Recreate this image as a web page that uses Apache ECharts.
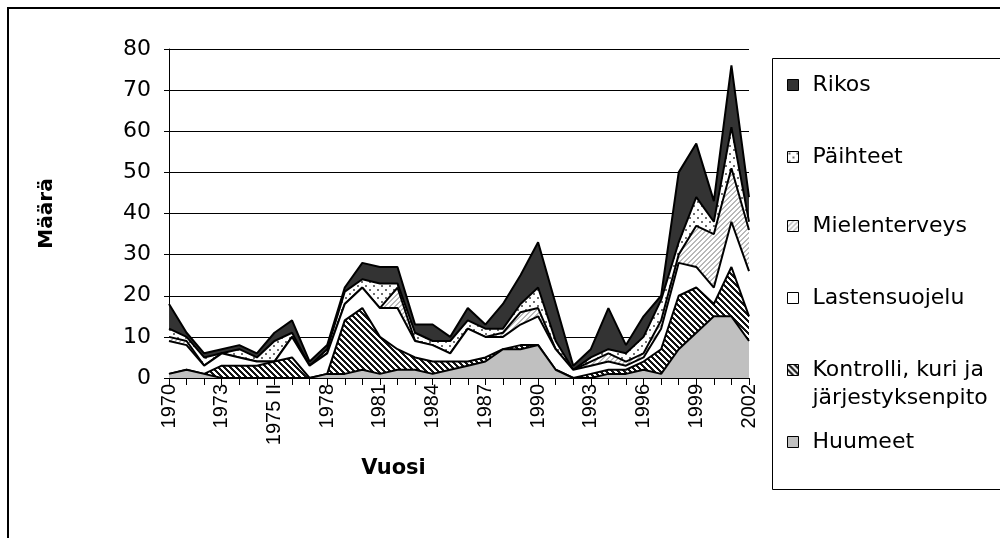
<!DOCTYPE html>
<html lang="fi">
<head>
    <meta charset="UTF-8">
    <title>Määrä vuosittain</title>
    <script src="https://cdn.jsdelivr.net/npm/echarts@6/dist/echarts.min.js"></script>
    <style>
        html, body { margin: 0; padding: 0; background: #fff; }
        #main { width: 1000px; height: 538px; }
    </style>
</head>
<body>
    <div id="main"></div>
    <script type="text/javascript">
        // vuodet (1975 kahdesti: 1975 ja 1975 II)
        var vuodet = ['1970', '1971', '1972', '1973', '1974', '1975', '1975 II', '1976', '1977', '1978',
            '1979', '1980', '1981', '1982', '1983', '1984', '1985', '1986', '1987', '1988',
            '1989', '1990', '1991', '1992', '1993', '1994', '1995', '1996', '1997', '1998',
            '1999', '2000', '2001', '2002'];

        var huumeet       = [1, 2, 1, 0, 0, 0, 0, 0, 0, 1, 1, 2, 1, 2, 2, 1, 2, 3, 4, 7, 7, 8, 2, 0, 0, 1, 1, 2, 1, 7, 11, 15, 15, 9];
        var kontrolli     = [0, 0, 0, 3, 3, 3, 4, 5, 0, 0, 13, 15, 9, 5, 3, 3, 2, 1, 1, 0, 1, 0, 0, 0, 1, 1, 1, 2, 6, 13, 11, 3, 12, 6];
        var lastensuojelu = [8, 6, 2, 3, 2, 1, 0, 5, 3, 5, 4, 5, 7, 10, 4, 4, 2, 8, 5, 3, 5, 7, 5, 2, 2, 2, 1, 1, 5, 8, 5, 4, 11, 11];
        var mielenterveys = [1, 1, 0, 0, 0, 0, 0, 0, 0, 0, 0, 0, 0, 5, 0, 0, 0, 0, 0, 1, 3, 2, 0, 0, 1, 2, 1, 1, 2, 2, 10, 13, 13, 10];
        var paihteet      = [2, 1, 2, 0, 2, 1, 5, 1, 0, 1, 3, 2, 6, 1, 2, 1, 3, 2, 2, 1, 2, 5, 2, 0, 1, 1, 2, 4, 5, 3, 7, 3, 10, 2];
        var rikos         = [6, 1, 1, 1, 1, 1, 2, 3, 1, 1, 1, 4, 4, 4, 2, 4, 1, 3, 1, 6, 7, 11, 9, 1, 2, 10, 2, 5, 1, 17, 13, 5, 15, 6];

        var KONTROLLI = 'Kontrolli, kuri ja järjestyksenpito';

        // kuviot (pattern fill) pikseleittäin
        function kuvio(size, fn) {
            var c = document.createElement('canvas');
            c.width = size; c.height = size;
            var ctx = c.getContext('2d');
            var img = ctx.createImageData(size, size);
            for (var y = 0; y < size; y++) {
                for (var x = 0; x < size; x++) {
                    var v = fn(x, y);
                    var i = (y * size + x) * 4;
                    img.data[i] = v; img.data[i + 1] = v; img.data[i + 2] = v; img.data[i + 3] = 255;
                }
            }
            ctx.putImageData(img, 0, 0);
            return { image: c, repeat: 'repeat' };
        }
        var pisteet = kuvio(8, function (x, y) {
            if ((x == 1 || x == 2) && (y == 1 || y == 2)) return 110;
            if ((x == 5 || x == 6) && (y == 5 || y == 6)) return 110;
            return 255;
        });
        var vaaleaVino = kuvio(5, function (x, y) { return ((x + y) % 5) < 2 ? 185 : 255; });
        var tummaVino = kuvio(6, function (x, y) { return ((x - y + 60) % 6) < 3 ? 20 : 255; });

        var tyylit = {
            'Huumeet': '#c0c0c0',
            'Rikos': '#333333'
        };
        tyylit[KONTROLLI] = tummaVino;
        tyylit['Lastensuojelu'] = '#ffffff';
        tyylit['Mielenterveys'] = vaaleaVino;
        tyylit['Päihteet'] = pisteet;

        var sarjat = [
            ['Huumeet', huumeet],
            [KONTROLLI, kontrolli],
            ['Lastensuojelu', lastensuojelu],
            ['Mielenterveys', mielenterveys],
            ['Päihteet', paihteet],
            ['Rikos', rikos]
        ];

        var series = sarjat.map(function (s, i) {
            return {
                name: s[0],
                type: 'line',
                stack: 'kaikki',
                data: s[1],
                symbol: 'none',
                z: 10 - i,
                lineStyle: { color: '#000', width: 2 },
                itemStyle: { color: '#000' },
                areaStyle: { color: tyylit[s[0]], opacity: 1 }
            };
        });

        // selite: yksi legend per rivi, jotta paikat osuvat
        var selitteet = [
            ['Rikos', 67], ['Päihteet', 139], ['Mielenterveys', 208],
            ['Lastensuojelu', 280], [KONTROLLI, 323], ['Huumeet', 424]
        ];
        var legend = selitteet.map(function (l) {
            var kaksi = l[0] === KONTROLLI;
            return {
                data: [{ name: l[0], itemStyle: { color: tyylit[l[0]], borderColor: '#000', borderWidth: 1 } }],
                left: 782,
                top: l[1],
                orient: 'vertical',
                icon: 'rect',
                itemWidth: 11,
                itemHeight: 11,
                selectedMode: false,
                // tyhjä ensimmäinen rivi -> ikoni osuu ensimmäiselle tekstiriville
                formatter: function (n) { return n === KONTROLLI ? ' \nKontrolli, kuri ja\njärjestyksenpito' : n; },
                textStyle: {
                    fontFamily: 'DejaVu Sans', fontSize: 22, color: '#000',
                    lineHeight: kaksi ? 28 : 26,
                    padding: [0, 0, 0, 9]
                }
            };
        });

        var myChart = echarts.init(document.getElementById('main'), null, { renderer: 'canvas' });
        myChart.setOption({
            animation: false,
            backgroundColor: '#fff',
            grid: { left: 169, right: 251, top: 49, bottom: 160 },
            legend: legend,
            graphic: [
                { type: 'rect', shape: { x: 8, y: 8, width: 1000, height: 540 }, style: { fill: null, stroke: '#000', lineWidth: 2 }, silent: true },
                { type: 'rect', shape: { x: 772.5, y: 58.5, width: 240, height: 431 }, style: { fill: null, stroke: '#000', lineWidth: 1 }, silent: true }
            ],
            xAxis: {
                type: 'category',
                data: vuodet,
                boundaryGap: false,
                name: 'Vuosi',
                nameLocation: 'middle',
                nameGap: 80,
                nameTextStyle: { fontFamily: 'DejaVu Sans', fontWeight: 'bold', fontSize: 21, color: '#000', padding: [0, 131, 0, 0] },
                axisLine: { lineStyle: { color: '#000', width: 1 } },
                axisTick: { show: true, interval: 0, length: 7, lineStyle: { color: '#000' } },
                axisLabel: { interval: 2, rotate: 90, margin: 6, fontFamily: 'Liberation Sans', fontSize: 20, color: '#000' },
                splitLine: { show: false }
            },
            yAxis: {
                type: 'value',
                min: 0,
                max: 80,
                interval: 10,
                name: 'Määrä',
                nameLocation: 'middle',
                nameRotate: 90,
                nameGap: 112,
                nameTextStyle: { fontFamily: 'DejaVu Sans', fontWeight: 'bold', fontSize: 20, color: '#000' },
                axisLine: { show: true, lineStyle: { color: '#000', width: 1 } },
                axisTick: { show: true, length: 5, lineStyle: { color: '#000' } },
                axisLabel: { margin: 18, fontFamily: 'DejaVu Sans', fontSize: 22, color: '#000' },
                splitLine: { lineStyle: { color: '#000', width: 1 } }
            },
            series: series
        });
    </script>
</body>
</html>
